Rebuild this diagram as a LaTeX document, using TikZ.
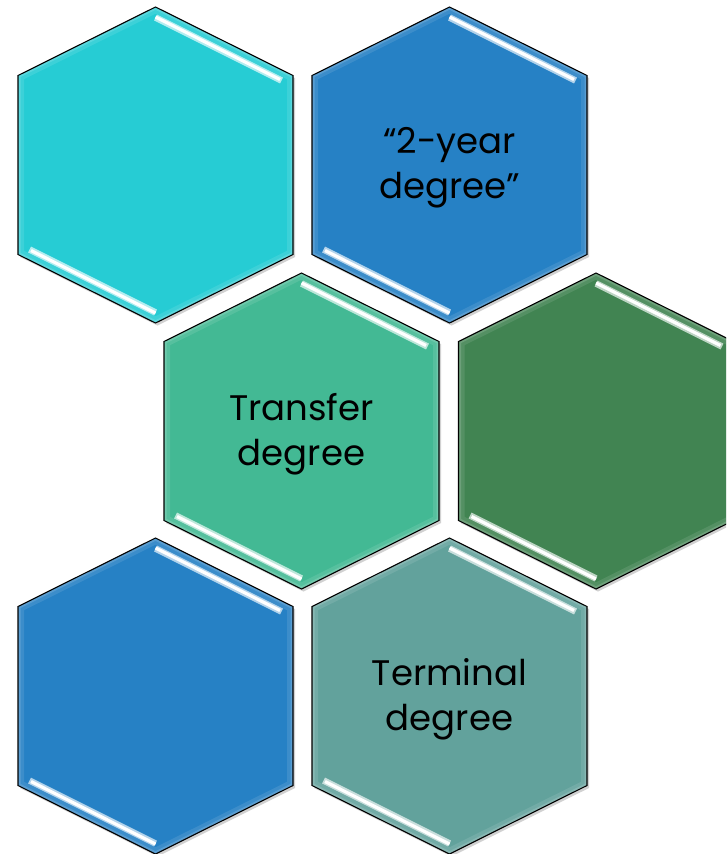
\documentclass[tikz,border=0pt]{standalone}
\usepackage{fontspec}
\setmainfont{Poppins}
\definecolor{cCyan}{HTML}{26CCD4}
\definecolor{cBlue}{HTML}{2681C5}
\definecolor{cMint}{HTML}{43B994}
\definecolor{cGreen}{HTML}{418452}
\definecolor{cTeal}{HTML}{62A29C}
\tikzset{
  hexlabel/.style={align=center,font=\fontsize{35.5}{45}\selectfont,text=black,inner sep=0pt},
  hexedge/.style={draw=black,line width=1.1pt,line join=miter},
}
\newcommand\hexpath{(0,-158) -- (137.5,-89.5) -- (137.5,89.5) -- (0,158) -- (-137.5,89.5) -- (-137.5,-89.5) -- cycle}
% #1 name, #2 cx, #3 cy, #4 colour, #5 text
\newcommand\hexcell[5]{%
  \begin{scope}[shift={(#2,#3)}]
    \fill[black,opacity=0.18] [shift={(2,2.5)}] \hexpath;
    \fill[#4] \hexpath;
    \begin{scope}
      \clip \hexpath;
      \draw[white,opacity=0.10,line width=12pt] \hexpath;
      \draw[white,opacity=0.15,line width=5pt] \hexpath;
    \end{scope}
    \draw[#4!35!white,line width=6.5pt] (0,-147.5) -- (126,-84.5);
    \draw[white,line width=3.2pt] (0,-148) -- (124.5,-85.5);
    \draw[#4!35!white,line width=6.5pt] (-126,84.5) -- (0,147.5);
    \draw[white,line width=3.2pt] (-124.5,85.5) -- (0,148);
    \draw[hexedge] \hexpath;
  \end{scope}
  \node[hexlabel] (#1) at (#2,#3+3) {#5};%
}
\begin{document}
\begin{tikzpicture}[x=1pt,y=-1pt]
  \useasboundingbox (0,0) rectangle (726,854);
  \clip (0,0) rectangle (726,854);
  \hexcell{h1}{155.5}{165}{cCyan}{}
  \hexcell{h2}{449.5}{165}{cBlue}{“2-year\\degree”}
  \hexcell{h3}{301.5}{431}{cMint}{Transfer\\degree}
  \hexcell{h4}{596}{431}{cGreen}{}
  \hexcell{h5}{155.5}{696}{cBlue}{}
  \hexcell{h6}{449.5}{696}{cTeal}{Terminal\\degree}
\end{tikzpicture}
\end{document}
